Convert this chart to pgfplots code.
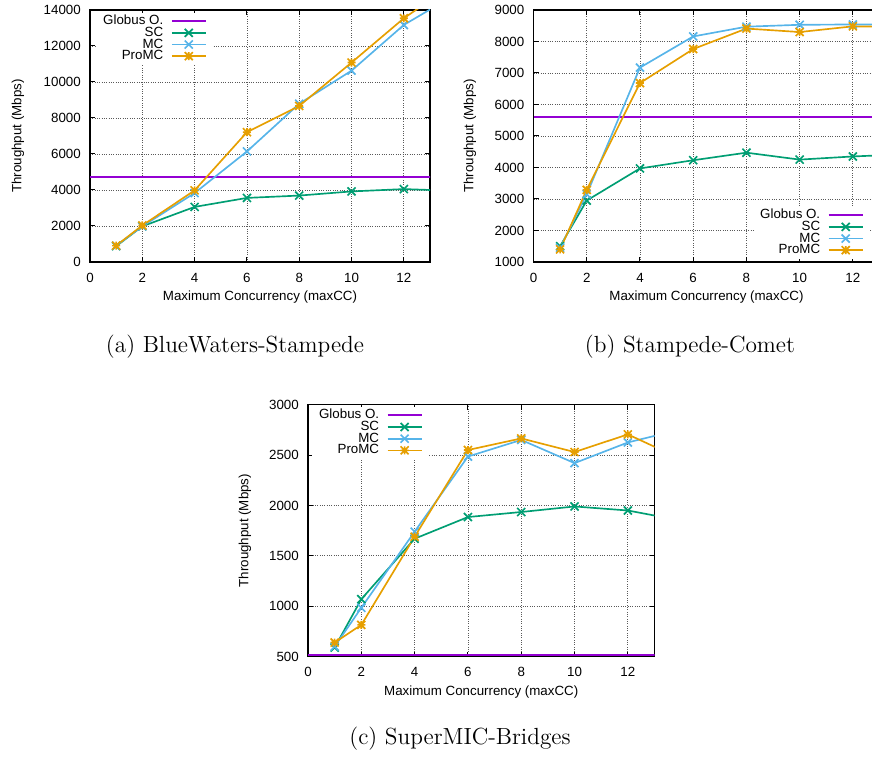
\documentclass[border=0pt]{standalone}
\usepackage{fontspec}
\usepackage{pgfplots}
\pgfplotsset{compat=1.18}
\newfontfamily\plotfont{Liberation Sans}
\definecolor{gpPurple}{HTML}{9400D3}
\definecolor{gpGreen}{HTML}{009E73}
\definecolor{gpBlue}{HTML}{56B4E9}
\definecolor{gpOrange}{HTML}{E69F00}
\pgfdeclareplotmark{gpstar}{%
  \pgfpathmoveto{\pgfqpoint{-\pgfplotmarksize}{0pt}}\pgfpathlineto{\pgfqpoint{\pgfplotmarksize}{0pt}}%
  \pgfpathmoveto{\pgfqpoint{0pt}{-\pgfplotmarksize}}\pgfpathlineto{\pgfqpoint{0pt}{\pgfplotmarksize}}%
  \pgfpathmoveto{\pgfqpoint{-\pgfplotmarksize}{-\pgfplotmarksize}}\pgfpathlineto{\pgfqpoint{\pgfplotmarksize}{\pgfplotmarksize}}%
  \pgfpathmoveto{\pgfqpoint{-\pgfplotmarksize}{\pgfplotmarksize}}\pgfpathlineto{\pgfqpoint{\pgfplotmarksize}{-\pgfplotmarksize}}%
  \pgfusepathqstroke}
\pgfplotsset{
  gpaxis/.style={
    scale only axis,
    anchor=north west,
    height=151.2pt,
    xmin=0, xmax=13,
    xtick={0,2,...,12},
    scaled y ticks=false,
    grid=major,
    major grid style={densely dotted, line width=0.5pt, black!65},
    tick align=inside,
    major tick length=3pt,
    tick style={black, line width=0.6pt},
    axis line style={line width=0.75pt},
    font=\plotfont\fontsize{8}{9.6}\selectfont,
    /pgf/number format/assume math mode=true,
    /pgf/number format/1000 sep={},
    xticklabel style={yshift=-3pt},
    yticklabel style={xshift=-2pt},
    xlabel={Maximum Concurrency (maxCC)},
    ylabel={Throughput (Mbps)},
    xlabel style={at={(axis description cs:0.5,-0.139)}, anchor=center},
    legend cell align=right,
    legend plot pos=right,
    legend style={fill=white, draw=none, inner xsep=4pt, inner ysep=1.5pt, column sep=4.5pt,
      nodes={inner sep=0pt, text height=5.6pt, text depth=1.4pt, font=\plotfont\fontsize{8}{9.6}\selectfont},
      anchor=north east},
    legend image code/.code={\draw[mark repeat=2, mark phase=2] plot coordinates {(0pt,0pt) (10.2pt,0pt) (20.4pt,0pt)};},
    every axis plot/.append style={line width=1pt},
  },
  globus/.style={gpPurple, line width=1.2pt, no marks},
  sc/.style={gpGreen, mark=x, mark size=3.4pt, mark options={solid}},
  mc/.style={gpBlue, mark=x, mark size=3.4pt, mark options={solid}},
  promc/.style={gpOrange, mark=gpstar, mark size=2.4pt, mark options={solid}},
}
\begin{document}
\begin{tikzpicture}
\useasboundingbox (0pt,0pt) rectangle (523.2pt,454.2pt);
% (a)
\begin{axis}[gpaxis, at={(54pt,448.2pt)}, width=204pt,
  ymin=0, ymax=14000, ytick={0,2000,...,14000},
  ylabel style={at={(axis description cs:-0.212,0.5)}, anchor=center},
  legend style={at={(axis description cs:0.364,0.99)}}]
\addplot[globus] coordinates {(0,4720) (14,4720)};
\addplot[sc] coordinates {(1,880) (2,1980) (4,3060) (6,3560) (8,3690) (10,3920) (12,4050) (14,3950)};
\addplot[mc] coordinates {(1,900) (2,1980) (4,3830) (6,6140) (8,8790) (10,10630) (12,13170) (14,14880)};
\addplot[promc] coordinates {(1,910) (2,2030) (4,3980) (6,7210) (8,8670) (10,11080) (12,13540) (14,15540)};
\legend{Globus O., SC, MC, ProMC}
\end{axis}
% (b)
\begin{axis}[gpaxis, at={(320.1pt,448.2pt)}, width=207.6pt,
  ymin=1000, ymax=9000, ytick={1000,2000,...,9000},
  ylabel style={at={(axis description cs:-0.184,0.5)}, anchor=center},
  legend style={at={(axis description cs:0.9746,0.22)}}]
\addplot[globus] coordinates {(0,5590) (14,5590)};
\addplot[sc] coordinates {(1,1500) (2,2950) (4,3970) (6,4230) (8,4470) (10,4250) (12,4350) (14,4420)};
\addplot[mc] coordinates {(1,1450) (2,3150) (4,7170) (6,8160) (8,8470) (10,8530) (12,8540) (14,8540)};
\addplot[promc] coordinates {(1,1400) (2,3290) (4,6680) (6,7760) (8,8410) (10,8300) (12,8480) (14,8460)};
\legend{Globus O., SC, MC, ProMC}
\end{axis}
% (c)
\begin{axis}[gpaxis, at={(184.8pt,211.4pt)}, width=207.9pt,
  ymin=500, ymax=3000, ytick={500,1000,...,3000},
  ylabel style={at={(axis description cs:-0.182,0.5)}, anchor=center},
  legend style={at={(axis description cs:0.351,0.992)}}]
\addplot[globus] coordinates {(0,515) (14,515)};
\addplot[sc] coordinates {(1,590) (2,1070) (4,1670) (6,1885) (8,1935) (10,1990) (12,1950) (14,1850)};
\addplot[mc] coordinates {(1,600) (2,985) (4,1740) (6,2485) (8,2650) (10,2420) (12,2625) (14,2755)};
\addplot[promc] coordinates {(1,640) (2,815) (4,1690) (6,2550) (8,2665) (10,2530) (12,2705) (14,2460)};
\legend{Globus O., SC, MC, ProMC}
\end{axis}
\node[font=\fontsize{14}{17}\selectfont] at (141pt,246pt) {(a) BlueWaters-Stampede};
\node[font=\fontsize{14}{17}\selectfont] at (414pt,246pt) {(b) Stampede-Comet};
\node[font=\fontsize{14}{17}\selectfont] at (276pt,10.8pt) {(c) SuperMIC-Bridges};
\end{tikzpicture}
\end{document}
